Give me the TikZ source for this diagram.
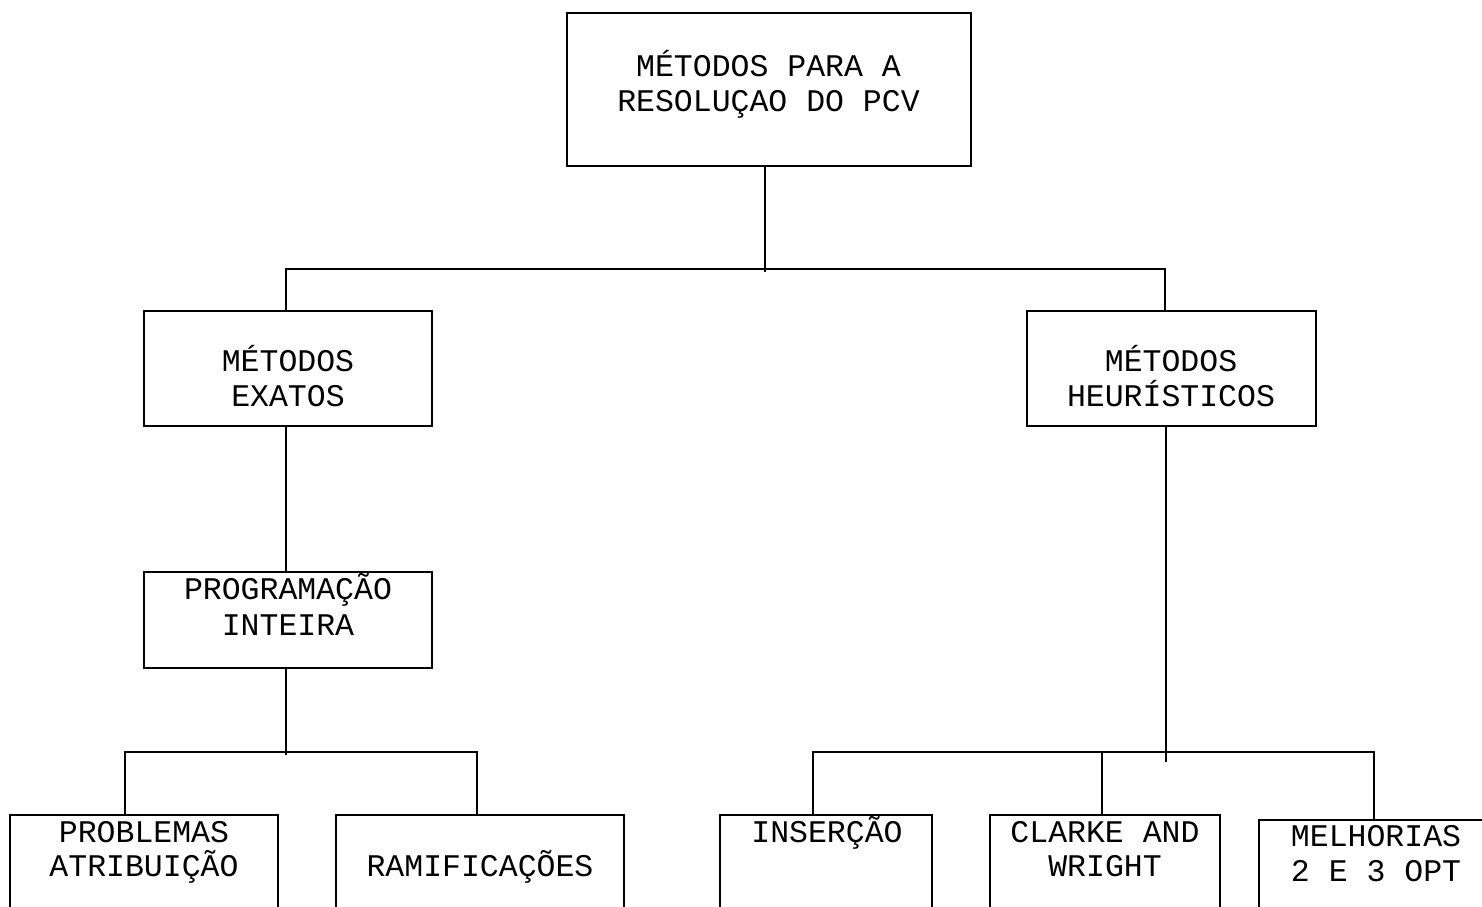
\documentclass[tikz,border=0pt]{standalone}
\usepackage{fontspec}
\setmainfont{Liberation Mono}
\begin{document}
\begin{tikzpicture}[x=1pt,y=-1pt,
  box/.style={draw, line width=1.5pt, inner sep=0pt, rectangle},
  txt/.style={anchor=base, inner sep=0pt, font=\fontsize{31.5}{34}\selectfont},
  conn/.style={line width=1.5pt}]
\useasboundingbox (0,0) rectangle (1482,906);
\clip (0,0) rectangle (1482,906);
% boxes
\node[box, minimum width=404, minimum height=153] (top) at (769,89.5) {};
\node[box, minimum width=288, minimum height=115] (exatos) at (288,368.5) {};
\node[box, minimum width=289, minimum height=115] (heur) at (1171.5,368.5) {};
\node[box, minimum width=288, minimum height=96] (prog) at (288,620) {};
\node[box, minimum width=268, minimum height=125] (prob) at (144,877.5) {};
\node[box, minimum width=288, minimum height=125] (ramif) at (480,877.5) {};
\node[box, minimum width=212, minimum height=125] (ins) at (826,877.5) {};
\node[box, minimum width=230, minimum height=125] (clarke) at (1105,877.5) {};
\node[box, minimum width=251, minimum height=120] (melh) at (1384.5,880) {};
% texts
\node[txt] (t1a) at (768.5,76) {MÉTODOS PARA A};
\node[txt] (t1b) at (768.5,111) {RESOLUÇAO DO PCV};
\node[txt] (t2a) at (288,371) {MÉTODOS};
\node[txt] (t2b) at (288,406) {EXATOS};
\node[txt] (t3a) at (1171,371) {MÉTODOS};
\node[txt] (t3b) at (1171,406) {HEURÍSTICOS};
\node[txt] (t4a) at (288,599) {PROGRAMAÇÃO};
\node[txt] (t4b) at (288,635) {INTEIRA};
\node[txt] (t5a) at (144,842) {PROBLEMAS};
\node[txt] (t5b) at (144,876) {ATRIBUIÇÃO};
\node[txt] (t6) at (480,876) {RAMIFICAÇÕES};
\node[txt] (t7) at (827,842) {INSERÇÃO};
\node[txt] (t8a) at (1105,842) {CLARKE AND};
\node[txt] (t8b) at (1105,876) {WRIGHT};
\node[txt] (t9a) at (1376,846) {MELHORIAS};
\node[txt] (t9b) at (1376,881) {2 E 3 OPT};
% connectors
\coordinate (ja) at (765,272);
\coordinate (hl) at (286,269);
\coordinate (hr) at (1165,269);
\draw[conn] ([xshift=-4pt]top.south) -- (ja);
\draw[conn] (hl |- exatos.north) -- (hl) -- (hr) -- (hr |- heur.north);
\draw[conn] (hl |- exatos.south) -- (hl |- prog.north);
\coordinate (pj) at (286,755);
\draw[conn] (hl |- prog.south) -- (pj);
\coordinate (ba) at (125,752);
\coordinate (bb) at (477,752);
\draw[conn] (ba |- prob.north) -- (ba) -- (bb) -- (bb |- ramif.north);
\coordinate (hj) at (1166,762);
\draw[conn] (hj |- heur.south) -- (hj);
\coordinate (ca) at (813,752);
\coordinate (cb) at (1102,752);
\coordinate (cc) at (1374,752);
\draw[conn] (ca |- ins.north) -- (ca) -- (cc) -- (cc |- melh.north);
\draw[conn] (cb) -- (cb |- clarke.north);
\end{tikzpicture}
\end{document}
